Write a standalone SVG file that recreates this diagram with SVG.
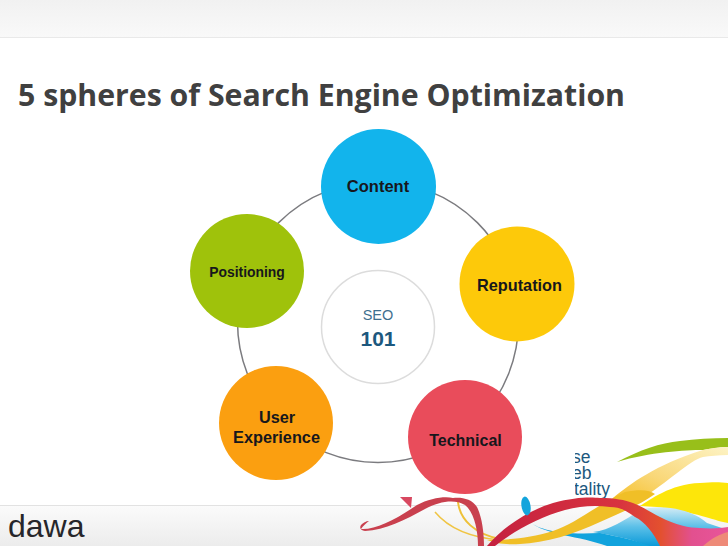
<svg xmlns="http://www.w3.org/2000/svg" width="728" height="546" viewBox="0 0 728 546">
<style>
.n{font-family:"Liberation Sans",Arial,sans-serif;font-weight:bold;fill:#17171c;text-anchor:middle}
.w{font-family:"Liberation Sans",Arial,sans-serif;font-size:17.500px;fill:#1c587e}
.s{fill:none}
</style>
<defs>
<linearGradient id="top" x1="0" y1="0" x2="0" y2="1"><stop offset="0" stop-color="#f1f1f1"/><stop offset="1" stop-color="#f9f9f9"/></linearGradient>
<linearGradient id="bot" x1="0" y1="0" x2="0" y2="1"><stop offset="0" stop-color="#fbfbfb"/><stop offset="1" stop-color="#ececec"/></linearGradient>
<linearGradient id="blue" x1="0" y1="0" x2="0" y2="1"><stop offset="0" stop-color="#d4ecf5"/><stop offset="0.5" stop-color="#5cc0e8"/><stop offset="1" stop-color="#0b9ad8"/></linearGradient>
<linearGradient id="pale" x1="1" y1="0" x2="0" y2="1"><stop offset="0" stop-color="#fdf3c4"/><stop offset="0.6" stop-color="#f9d778"/><stop offset="1" stop-color="#f6c028"/></linearGradient>
<linearGradient id="red" x1="0" y1="0" x2="1" y2="0"><stop offset="0" stop-color="#c4213f"/><stop offset="0.55" stop-color="#d8333f"/><stop offset="0.72" stop-color="#e3502f"/><stop offset="0.85" stop-color="#e2508f"/><stop offset="1" stop-color="#e8559a"/></linearGradient>
<clipPath id="cut"><rect x="575" y="440" width="60" height="70"/></clipPath>
</defs>
<rect width="728" height="546" fill="#fff"/>
<rect width="728" height="37.500" fill="url(#top)"/>
<line x1="0" y1="37.500" x2="728" y2="37.500" stroke="#e9e9e9"/>
<rect y="505" width="728" height="41" fill="url(#bot)"/>
<line x1="0" y1="505.500" x2="728" y2="505.500" stroke="#e2e2e2"/>
<text x="18" y="106" font-family="'Open Sans','Noto Sans',sans-serif" font-weight="700" font-size="30.250" fill="#404040">5 spheres of Search Engine Optimization</text>
<text x="8" y="537" font-family="'Liberation Sans',Arial,sans-serif" font-size="32" fill="#26262a">dawa</text>

<g id="swoosh">
<g clip-path="url(#cut)">
<text class="w" x="572" y="463">se</text>
<text class="w" x="572" y="479">eb</text>
<text class="w" x="574" y="495">tality</text>
</g>
<path d="M617 462C640 450 660 443 680 441C695 439 712 438 728 438V447C718 447 710 449 703 450C685 450 650 452 617 462Z" fill="#98bf1a"/>
<path d="M613 498C630 484 655 465 703 450C712 448 720 447 728 447V455C718 455 710 456 703 457C690 460 668 482 640 500Z" fill="url(#pale)"/>
<path d="M640 506C650 500 670 484 700 483C712 482 720 482 728 483V523C715 521 700 513 657 507Z" fill="#fde60a"/>
<path d="M593 532C610 530 625 520 640 510C660 504 690 508 707 523L728 530V546H647C630 538 610 535 593 532Z" fill="url(#blue)"/>
<path d="M530 522C540 530 560 535 600 533C620 537 635 540 650 546H607C580 536 545 535 530 522Z" fill="#12a3dd"/>
<path d="M487 540C510 540 530 538 553 531C575 524 595 506 625 492C640 489 650 490 655 494C640 505 620 513 600 522C575 534 545 543 520 544C505 545 495 543 487 540Z" fill="#f0bf27"/>
<path d="M458 502C460 520 475 534 500 539" class="s" stroke="#eec138" stroke-width="2"/>
<path d="M435 512C450 530 475 538 500 540" class="s" stroke="#f0c544" stroke-width="1.500"/>
<path d="M487 546C505 525 530 510 553 503C575 497 590 497 600 498C615 498 625 500 633 503C645 508 652 513 660 517C675 525 690 528 700 528C712 529 722 528 728 527V546H660C653 532 645 522 635 517C625 510 620 507 610 507C595 505 580 506 565 510C540 517 515 530 495 546Z" fill="url(#red)"/>
<path d="M703 546C712 538 720 534 728 532V546Z" fill="#ee8a78"/>
<path d="M361 529C375 530 395 520 417 505C430 498 445 496 453 498C462 497 472 499 477 507C482 517 484 533 484 546H478C478 530 474 512 465 505C455 499 440 501 425 509C405 520 385 530 365 531C361 531 359 528 361 525C363 523 366 521 369 521C366 523 363 526 361 529Z" fill="#c9404e"/>
<path d="M400 497L412 497L411 508Z" fill="#d84860"/>
<ellipse cx="526" cy="506" rx="4.500" ry="9.500" transform="rotate(-10 526 506)" fill="#13a4dc"/>
</g>

<g id="connectors">
<circle cx="378" cy="322" r="140.500" fill="none" stroke="#7b7b7f" stroke-width="1.500"/>
</g>

<g id="content"><circle cx="378.500" cy="186.500" r="57.500" fill="#12b4ec"/><text class="n" x="378" y="192" font-size="16.500">Content</text></g>
<g id="reputation"><circle cx="517" cy="284" r="57.500" fill="#fdc90a"/><text class="n" x="519.500" y="291" font-size="16.300">Reputation</text></g>
<g id="technical"><circle cx="465" cy="437" r="57" fill="#e94c5b"/><text class="n" x="465.500" y="446" font-size="16">Technical</text></g>
<g id="user-experience"><circle cx="276" cy="423" r="57" fill="#fb9f10"/><text class="n" x="277" y="423" font-size="16.300">User</text><text class="n" x="276.500" y="443" font-size="16.300">Experience</text></g>
<g id="positioning"><circle cx="247" cy="271" r="57" fill="#9fc20b"/><text class="n" x="247" y="277" font-size="13.900">Positioning</text></g>
<g id="center"><circle cx="378" cy="327" r="56.500" fill="#fff" stroke="#dcdcdc" stroke-width="1.500"/><text x="378" y="320" font-family="'Liberation Sans',Arial,sans-serif" font-size="14.500" fill="#3f6f8f" text-anchor="middle">SEO</text><text x="378" y="346" font-family="'Liberation Sans',Arial,sans-serif" font-size="21" font-weight="bold" fill="#1c587e" text-anchor="middle">101</text></g>
</svg>
